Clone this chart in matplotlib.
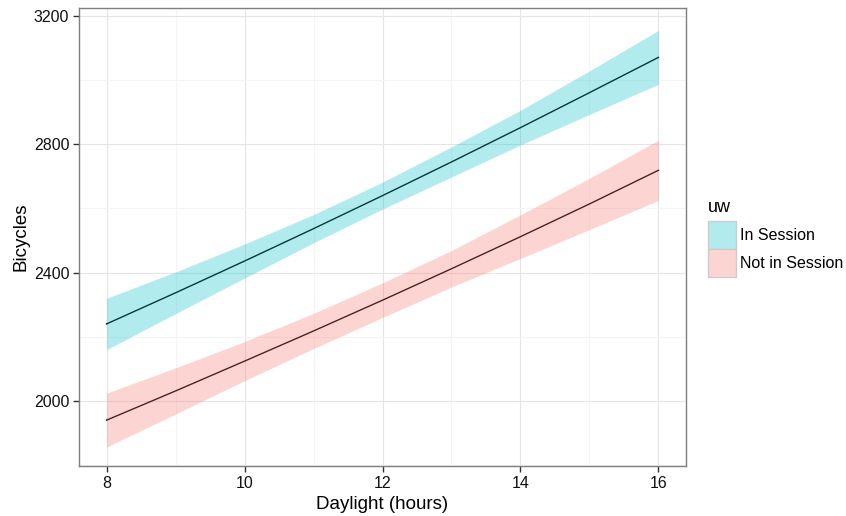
import matplotlib
matplotlib.use("Agg")
import matplotlib.pyplot as plt
from matplotlib.patches import Rectangle
from matplotlib.ticker import MultipleLocator

plt.rcParams['font.family'] = ['Liberation Sans', 'DejaVu Sans']

daylight = [8, 9, 10, 11, 12, 13, 14, 15, 16]

in_fit = [2240, 2337, 2436, 2537, 2640, 2745, 2852, 2961, 3071]
in_upr = [2320, 2402, 2489, 2581, 2682, 2792, 2906, 3029, 3155]
in_lwr = [2160, 2272, 2383, 2493, 2598, 2698, 2798, 2893, 2987]

not_fit = [1940, 2031, 2124, 2218, 2314, 2412, 2512, 2614, 2719]
not_upr = [2024, 2103, 2185, 2273, 2368, 2469, 2580, 2694, 2813]
not_lwr = [1856, 1959, 2063, 2163, 2260, 2355, 2444, 2534, 2625]

groups = ["In Session", "Not in Session"]
colors = ["#00BFC4", "#F8766D"]
alpha = 0.3

W, H = 846, 516
fig = plt.figure(figsize=(W / 100, H / 100), dpi=100)
ax = fig.add_axes([79 / W, 1 - 466 / H, (686 - 79) / W, (466 - 8) / H])

series = [(in_fit, in_lwr, in_upr), (not_fit, not_lwr, not_upr)]
for (fit, lwr, upr), col in zip(series, colors):
    ax.plot(daylight, fit, color='black', lw=1.0, zorder=3)
    ax.fill_between(daylight, lwr, upr, color=col, alpha=alpha, lw=0, zorder=4)

ax.set_xlim(7.6, 16.4)
ax.set_ylim(1797, 3225)
ax.xaxis.set_major_locator(MultipleLocator(2))
ax.xaxis.set_minor_locator(MultipleLocator(1))
ax.yaxis.set_major_locator(MultipleLocator(400))
ax.yaxis.set_minor_locator(MultipleLocator(200))

ax.grid(which='major', color='#e5e5e5', lw=0.8, zorder=0)
ax.grid(which='minor', color='#f4f4f4', lw=0.8, zorder=0)
ax.set_axisbelow(True)

for s in ax.spines.values():
    s.set_color('#7f7f7f')
    s.set_linewidth(1.0)

ax.tick_params(which='major', direction='out', length=4, width=1.0, color='#333333',
               labelsize=11.5, labelcolor='#111111', pad=3)
ax.tick_params(which='minor', length=0)

ax.set_xlabel('Daylight (hours)', fontsize=13.5, labelpad=4)
ax.set_ylabel('Bicycles', fontsize=13.5, labelpad=3)

# Legend drawn manually (ggplot style)
fig.text(708 / W, 1 - 208 / H, 'uw', fontsize=13, va='center', ha='left')
key_x, key_w, key_h = 708, 28, 28
key_top = 221
for i, (g, col) in enumerate(zip(groups, colors)):
    y0 = key_top + i * key_h
    fig.patches.append(Rectangle((key_x / W, 1 - (y0 + key_h) / H), key_w / W, key_h / H,
                                 transform=fig.transFigure, facecolor='white',
                                 edgecolor='none'))
    fig.patches.append(Rectangle((key_x / W, 1 - (y0 + key_h) / H), key_w / W, key_h / H,
                                 transform=fig.transFigure, facecolor=col, alpha=alpha,
                                 edgecolor='none'))
    fig.patches.append(Rectangle((key_x / W, 1 - (y0 + key_h) / H), key_w / W, key_h / H,
                                 transform=fig.transFigure, facecolor='none',
                                 edgecolor='#cccccc', lw=1.0))
    fig.text(740 / W, 1 - (y0 + key_h / 2 + 1) / H, g, fontsize=11.5, va='center', ha='left')

fig.savefig('out.png', dpi=100)
